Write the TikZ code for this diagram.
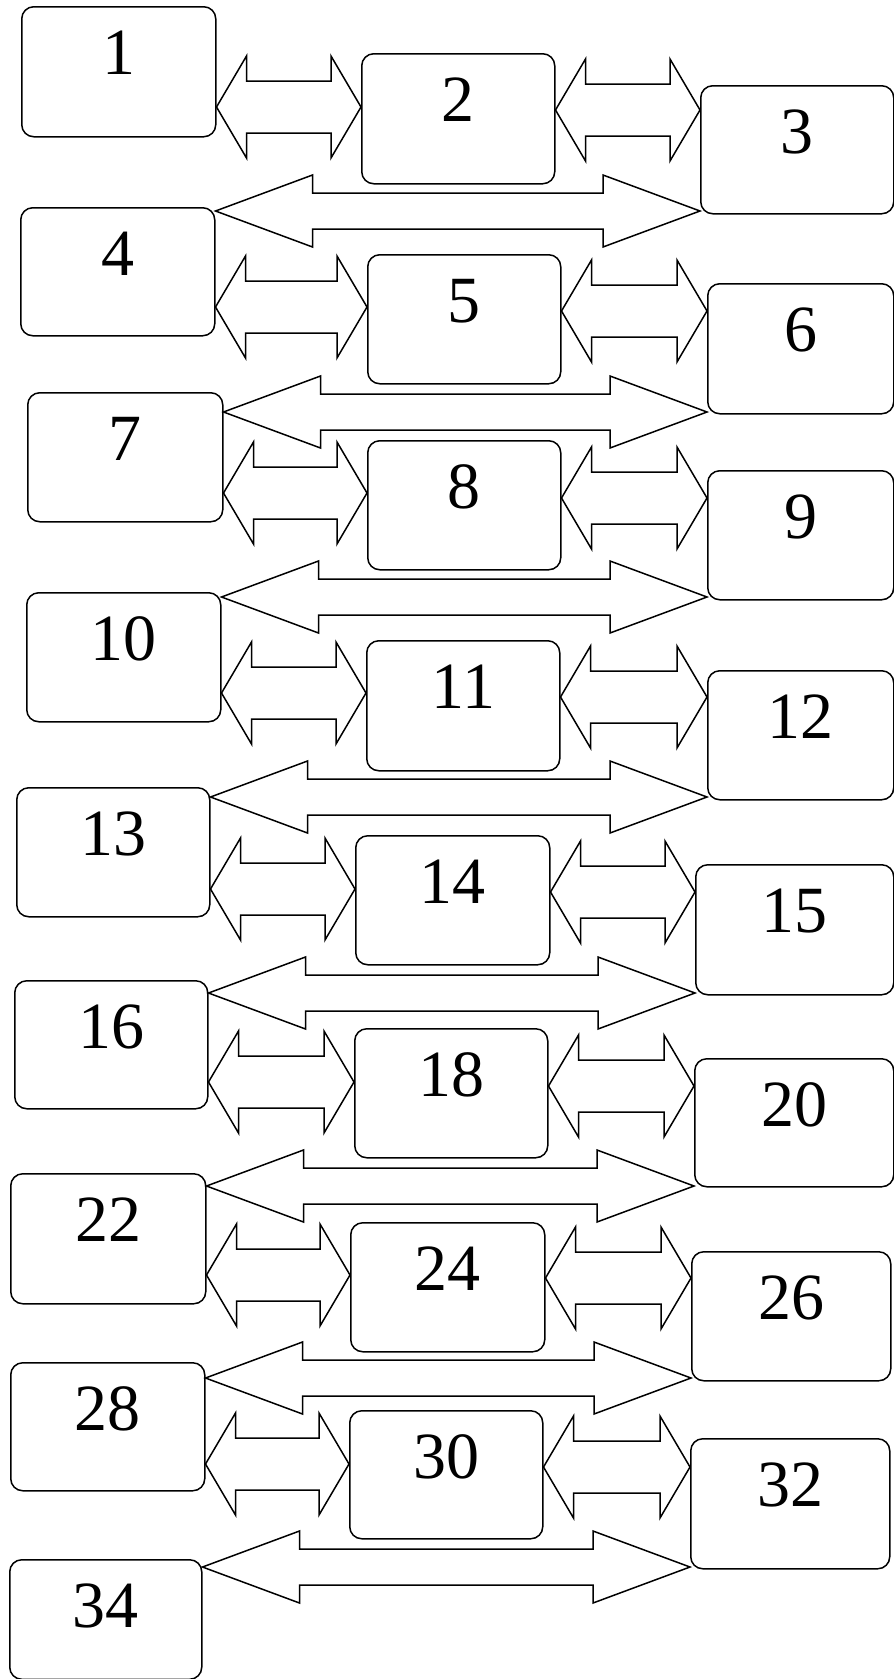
\documentclass[tikz,border=0pt]{standalone}
\usepackage{fontspec}
\setmainfont{Liberation Serif}
\usetikzlibrary{calc}
\tikzset{
  box/.style={draw=black, line width=1.5pt, rounded corners=12pt, inner sep=0pt, fill=none},
  lbl/.style={font=\fontsize{66}{66}\selectfont, inner sep=0pt, text=black},
  arr/.style={draw=black, line width=1.5pt, fill=white, line join=miter}
}
\newcommand\bx[6]{%
  \node[box, minimum width={#4-#2}, minimum height={#5-#3}, anchor=north west] (#1) at (#2,#3) {};
  \node[lbl] (#1t) at ([yshift=-47pt]#1.north) {#6};}
% #1 left node anchor, #2 right node anchor, #3 y, #4 head length, #5 half head, #6 half shaft
\newcommand\dar[6]{%
  \draw[arr] let \p1=(#1 |- 0,#3), \p2=(#2 |- 0,#3) in
    (\x1,\y1) -- (\x1+#4pt,\y1+#5pt) -- (\x1+#4pt,\y1+#6pt) -- (\x2-#4pt,\y1+#6pt)
    -- (\x2-#4pt,\y1+#5pt) -- (\x2,\y1) -- (\x2-#4pt,\y1-#5pt) -- (\x2-#4pt,\y1-#6pt)
    -- (\x1+#4pt,\y1-#6pt) -- (\x1+#4pt,\y1-#5pt) -- cycle;}
\newcommand\smar[3]{\dar{#1.east}{#2.west}{#3}{30}{51}{26}}
\newcommand\bigar[3]{\dar{#1.east}{#2.west}{#3}{97}{36}{18}}
\begin{document}
\begin{tikzpicture}[x=1pt,y=-1pt]
\useasboundingbox (0,0) rectangle (894,1679);
\fill[white] (0,0) rectangle (894,1679);
\bx{b1}{21}{6}{215}{136}{1}
\bx{b2}{361}{53}{554}{183}{2}
\bx{b3}{700}{85}{893}{213}{3}
\bx{b4}{20}{207}{214}{335}{4}
\bx{b5}{367}{254}{560}{383}{5}
\bx{b6}{707}{283}{893}{413}{6}
\bx{b7}{27}{392}{222}{521}{7}
\bx{b8}{367}{440}{560}{569}{8}
\bx{b9}{707}{470}{893}{599}{9}
\bx{b10}{26}{592}{220}{721}{10}
\bx{b11}{366}{640}{559}{770}{11}
\bx{b12}{707}{670}{893}{799}{12}
\bx{b13}{16}{787}{209}{916}{13}
\bx{b14}{355}{835}{549}{964}{14}
\bx{b15}{695}{864}{893}{994}{15}
\bx{b16}{14}{980}{207}{1108}{16}
\bx{b18}{354}{1028}{547}{1157}{18}
\bx{b20}{694}{1058}{893}{1186}{20}
\bx{b22}{10}{1173}{205}{1303}{22}
\bx{b24}{350}{1222}{544}{1351}{24}
\bx{b26}{691}{1251}{890}{1380}{26}
\bx{b28}{10}{1362}{204}{1490}{28}
\bx{b30}{349}{1410}{542}{1538}{30}
\bx{b32}{690}{1438}{889}{1568}{32}
\bx{b34}{9}{1559}{201}{1678.5}{34}
% small arrows, left
\smar{b1}{b2}{107}
\smar{b4}{b5}{307}
\smar{b7}{b8}{493}
\smar{b10}{b11}{693}
\smar{b13}{b14}{889}
\smar{b16}{b18}{1082}
\smar{b22}{b24}{1275}
\smar{b28}{b30}{1464}
% small arrows, right
\smar{b2}{b3}{110}
\smar{b5}{b6}{311}
\smar{b8}{b9}{498}
\smar{b11}{b12}{697}
\smar{b14}{b15}{892}
\smar{b18}{b20}{1086}
\smar{b24}{b26}{1278}
\smar{b30}{b32}{1467}
% big arrows
\bigar{b4}{b3}{211}
\bigar{b7}{b6}{412}
\bigar{b10}{b9}{597}
\bigar{b13}{b12}{797}
\bigar{b16}{b15}{993}
\bigar{b22}{b20}{1186}
\bigar{b28}{b26}{1378}
\bigar{b34}{b32}{1567}
\end{tikzpicture}
\end{document}
